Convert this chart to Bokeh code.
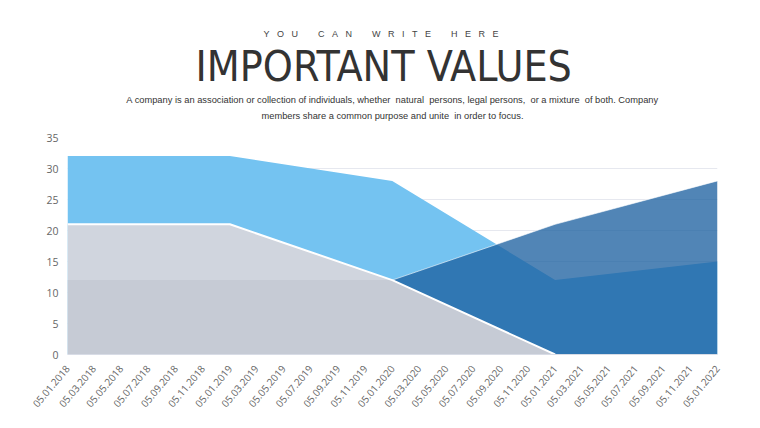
import pandas as pd
from bokeh.plotting import figure
from bokeh.models import Title, FixedTicker, Range1d
from bokeh.embed import file_html
from bokeh.resources import INLINE

# ---- data ----
dates = ["05.01.2018", "05.01.2019", "05.01.2020", "05.01.2021", "05.01.2022"]
light_blue = [32, 32, 28, 12, 15]
steel_blue = [0, 0, 12, 21, 28]
grey = [21, 21, 12, 0, 0]
grey_band = [12, 12, 12, 0, 0]

tick_labels = ["05.01.2018", "05.03.2018", "05.05.2018", "05.07.2018", "05.09.2018", "05.11.2018",
               "05.01.2019", "05.03.2019", "05.05.2019", "05.07.2019", "05.09.2019", "05.11.2019",
               "05.01.2020", "05.03.2020", "05.05.2020", "05.07.2020", "05.09.2020", "05.11.2020",
               "05.01.2021", "05.03.2021", "05.05.2021", "05.07.2021", "05.09.2021", "05.11.2021",
               "05.01.2022"]
y_ticks = [0, 5, 10, 15, 20, 25, 30, 35]

kicker = "YOU CAN WRITE HERE"
title = "IMPORTANT VALUES"
sub1 = "A company is an association or collection of individuals, whether  natural  persons, legal persons,  or a mixture  of both. Company"
sub2 = "members share a common purpose and unite  in order to focus."

def to_ms(s):
    return int(pd.to_datetime(s, format="%d.%m.%Y").timestamp() * 1000)

x = [to_ms(d) for d in dates]
tick_ms = [to_ms(t) for t in tick_labels]

p = figure(width=744, height=418, output_backend="svg", toolbar_location=None,
           x_range=Range1d(x[0], x[-1]), y_range=Range1d(0, 35),
           min_border_left=67, min_border_right=27, min_border_bottom=64, min_border_top=137)
p.outline_line_color = None
p.background_fill_color = "white"
p.border_fill_color = "white"

NB = "\u00a0"
kick_txt = (NB * 8).join((NB * 3).join(w) for w in kicker.split(" "))

# header, stacked from the frame upwards
p.add_layout(Title(text=NB, text_font_size="1px", standoff=14), "above")   # spacer
p.add_layout(Title(text=sub2.replace("  ", NB + " "), align="center", text_font="Liberation Sans",
                   text_font_size="9.3px", text_font_style="normal", text_color="#333333",
                   standoff=0), "above")
p.add_layout(Title(text=sub1.replace("  ", NB + " "), align="center", text_font="Liberation Sans",
                   text_font_size="9.3px", text_font_style="normal", text_color="#333333",
                   standoff=8), "above")
p.add_layout(Title(text=title, align="left", offset=128, text_font="DejaVu Sans Condensed, Roboto",
                   text_font_size="42.5px", text_font_style="normal", text_color="#333333",
                   standoff=-4), "above")
p.add_layout(Title(text=kick_txt, align="left", offset=196, text_font="Liberation Sans",
                   text_font_size="9px", text_font_style="normal", text_color="#444444",
                   standoff=5), "above")

# areas
p.varea(x=x, y1=0, y2=light_blue, fill_color="#74C3F1", fill_alpha=1.0)
p.varea(x=x, y1=0, y2=steel_blue, fill_color="#1A5F9F", fill_alpha=0.76)
p.line(x=x[2:], y=steel_blue[2:], line_color="white", line_alpha=0.6, line_width=1)
p.varea(x=x, y1=0, y2=grey, fill_color="#D0D5DE", fill_alpha=1.0)
p.varea(x=x, y1=0, y2=grey_band, fill_color="#C6CBD5", fill_alpha=1.0)
p.line(x=x[:4], y=grey[:4], line_color="white", line_width=2)

# axes
p.xaxis.ticker = FixedTicker(ticks=tick_ms)
p.xaxis.major_label_overrides = {t: l for t, l in zip(tick_ms, tick_labels)}
p.xaxis.major_label_orientation = 0.87
p.xaxis.major_label_text_font = "Open Sans"
p.xaxis.major_label_text_font_size = "10px"
p.xaxis.major_label_text_color = "#666666"
p.xaxis.axis_line_color = "#D8DCE6"
p.xaxis.major_tick_line_color = None
p.xaxis.minor_tick_line_color = None
p.xaxis.major_label_standoff = 6

p.yaxis.ticker = FixedTicker(ticks=y_ticks)
p.yaxis.major_label_text_font = "Open Sans"
p.yaxis.major_label_text_font_size = "10.5px"
p.yaxis.major_label_text_color = "#666666"
p.yaxis.axis_line_color = None
p.yaxis.major_tick_line_color = None
p.yaxis.minor_tick_line_color = None
p.yaxis.major_label_standoff = 3

p.xgrid.grid_line_color = None
p.ygrid.grid_line_color = "#E6E8EF"
p.ygrid.ticker = FixedTicker(ticks=y_ticks)

open("out.html", "w").write(file_html(p, INLINE))
